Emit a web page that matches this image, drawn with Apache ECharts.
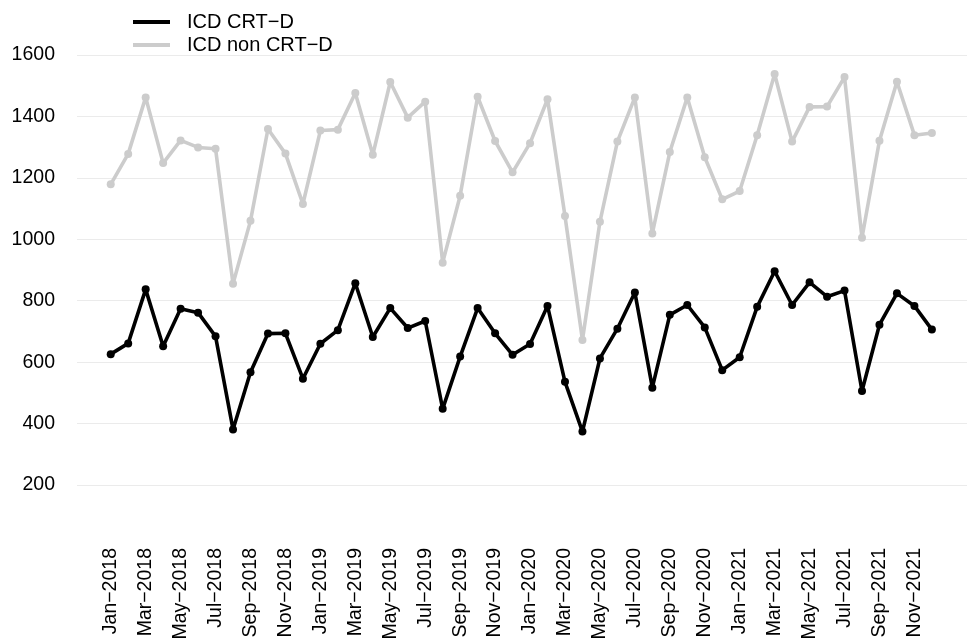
<!DOCTYPE html>
<html style="height: 100%">
<head>
<meta charset="utf-8">
</head>
<body style="height: 100%; margin: 0">
<div id="container" style="width: 968px; height: 644px"></div>
<script src="https://cdn.jsdelivr.net/npm/echarts@6/dist/echarts.min.js"></script>
<script type="text/javascript">
var months = [
    'Jan−2018','Feb−2018','Mar−2018','Apr−2018','May−2018','Jun−2018','Jul−2018','Aug−2018','Sep−2018','Oct−2018','Nov−2018','Dec−2018',
    'Jan−2019','Feb−2019','Mar−2019','Apr−2019','May−2019','Jun−2019','Jul−2019','Aug−2019','Sep−2019','Oct−2019','Nov−2019','Dec−2019',
    'Jan−2020','Feb−2020','Mar−2020','Apr−2020','May−2020','Jun−2020','Jul−2020','Aug−2020','Sep−2020','Oct−2020','Nov−2020','Dec−2020',
    'Jan−2021','Feb−2021','Mar−2021','Apr−2021','May−2021','Jun−2021','Jul−2021','Aug−2021','Sep−2021','Oct−2021','Nov−2021','Dec−2021'
];
var crtD = [
    626, 661, 837, 652, 774, 761, 684, 381, 567, 693, 694, 546,
    660, 704, 857, 682, 776, 711, 734, 448, 618, 776, 694, 624,
    659, 783, 536, 374, 612, 709, 827, 517, 754, 786, 713, 574,
    616, 780, 896, 786, 860, 813, 833, 506, 722, 824, 783, 706
];
var nonCrtD = [
    1179, 1278, 1462, 1248, 1322, 1299, 1295, 855, 1060, 1359, 1279, 1115,
    1354, 1357, 1476, 1275, 1512, 1396, 1448, 924, 1142, 1464, 1320, 1218,
    1313, 1456, 1076, 672, 1057, 1318, 1462, 1019, 1284, 1462, 1267, 1130,
    1157, 1339, 1538, 1318, 1431, 1432, 1528, 1005, 1321, 1513, 1339, 1346
];
var yTicks = [200, 400, 600, 800, 1000, 1200, 1400, 1600];

var font = 'Liberation Sans, Arial, Helvetica, sans-serif';

function toPoints(arr) {
    var res = [];
    for (var i = 0; i < arr.length; i++) {
        res.push([i, arr[i]]);
    }
    return res;
}
var labelPos = [];
for (var i = 0; i < months.length; i += 2) {
    labelPos.push(i);
}

var chart = echarts.init(document.getElementById('container'));
var option = {
    animation: false,
    textStyle: { fontFamily: font },
    legend: {
        orient: 'vertical',
        left: 128,
        top: 7,
        itemWidth: 37,
        itemHeight: 4,
        itemGap: 3,
        icon: 'rect',
        selectedMode: false,
        textStyle: {
            fontFamily: font,
            fontSize: 20,
            color: '#000',
            lineHeight: 20,
            padding: [0, 0, 0, 12]
        },
        data: ['ICD CRT−D', 'ICD non CRT−D']
    },
    grid: {
        left: 77,
        right: 1,
        top: 55,
        bottom: 159
    },
    xAxis: {
        type: 'value',
        min: -1.93,
        max: 49.01,
        axisLine: { show: false },
        axisTick: { show: false },
        splitLine: { show: false },
        axisLabel: {
            customValues: labelPos,
            rotate: 90,
            margin: 63,
            fontFamily: font,
            fontSize: 19.5,
            color: '#000',
            formatter: function (v) { return months[v]; }
        }
    },
    yAxis: {
        type: 'value',
        min: yTicks[0],
        max: yTicks[yTicks.length - 1],
        interval: 200,
        axisLine: { show: false },
        axisTick: { show: false },
        axisLabel: {
            margin: 22,
            fontFamily: font,
            fontSize: 19.5,
            color: '#000',
            formatter: function (v) { return String(v); }
        },
        splitLine: {
            lineStyle: { color: '#ebebeb', width: 1.2 }
        }
    },
    series: [
        {
            name: 'ICD CRT−D',
            type: 'line',
            data: toPoints(crtD),
            symbol: 'circle',
            symbolSize: 8,
            clip: false,
            color: '#000000',
            lineStyle: { width: 3.6, color: '#000000' },
            itemStyle: { color: '#000000' }
        },
        {
            name: 'ICD non CRT−D',
            type: 'line',
            data: toPoints(nonCrtD),
            symbol: 'circle',
            symbolSize: 8,
            clip: false,
            color: '#cccccc',
            lineStyle: { width: 3.6, color: '#cccccc' },
            itemStyle: { color: '#cccccc' }
        }
    ]
};
chart.setOption(option);
</script>
</body>
</html>
